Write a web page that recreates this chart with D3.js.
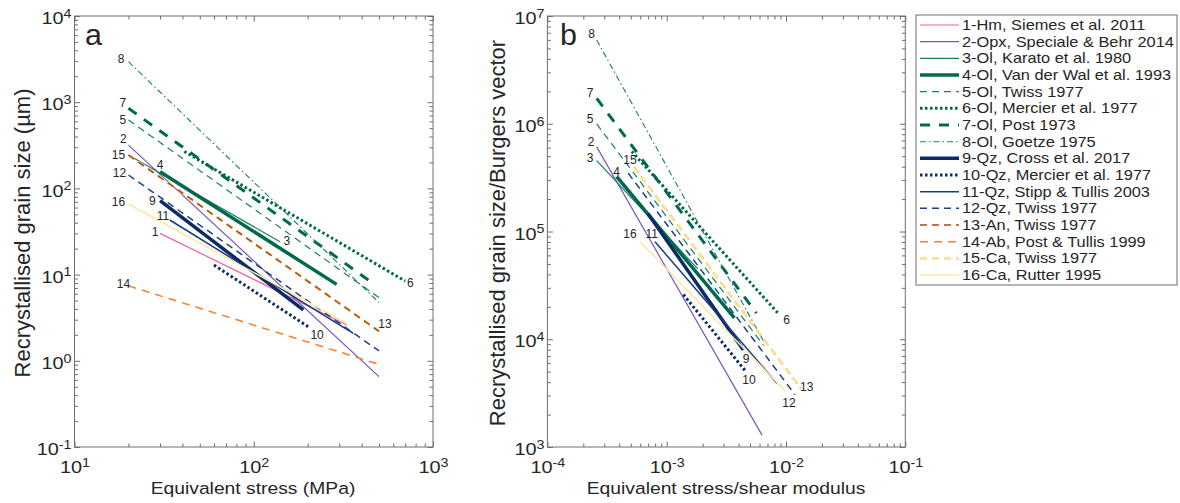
<!DOCTYPE html>
<html>
<head>
<meta charset="utf-8">
<script src="https://cdn.jsdelivr.net/npm/d3@7"></script>
<style>
body { margin: 0; background: #fff; }
text { font-family: "Liberation Sans", Arial, Helvetica, sans-serif; fill: #262626; }
</style>
</head>
<body>
<svg id="chart" width="1180" height="503"></svg>
<script>
// ---- data ----
var lineIds = [1, 2, 3, 4, 5, 6, 7, 8, 9, 10, 11, 12, 13, 14, 15, 16];
var legendNames = [
    "1-Hm, Siemes et al. 2011",
    "2-Opx, Speciale & Behr 2014",
    "3-Ol, Karato et al. 1980",
    "4-Ol, Van der Wal et al. 1993",
    "5-Ol, Twiss 1977",
    "6-Ol, Mercier et al. 1977",
    "7-Ol, Post 1973",
    "8-Ol, Goetze 1975",
    "9-Qz, Cross et al. 2017",
    "10-Qz, Mercier et al. 1977",
    "11-Qz, Stipp & Tullis 2003",
    "12-Qz, Twiss 1977",
    "13-An, Twiss 1977",
    "14-Ab, Post & Tullis 1999",
    "15-Ca, Twiss 1977",
    "16-Ca, Rutter 1995"
];

// panel a: equivalent stress (MPa) and grain size (um) at the two ends of each line
var stressStartA = [30, 20, 20, 30, 20, 41, 20, 20, 30, 60, 34, 20, 20, 20, 20, 20];
var stressEndA   = [330, 500, 140, 290, 500, 700, 436, 500, 189, 201, 359, 500, 500, 500, 500, 330];
var sizeStartA   = [30.1, 318, 244, 156, 621, 268, 849, 2950, 72, 12.9, 43, 143, 244, 7.4, 244, 65.9];
var sizeEndA     = [2.6, 0.655, 24.1, 7.7, 5.4, 8.4, 8.65, 4.74, 3.9, 2.49, 2.08, 1.3, 2.2, 0.91, 2.2, 2.72];

// panel b: stress/shear modulus and grain size/Burgers vector (null = not plotted)
var stressStartB = [null, 2.59e-4, 2.59e-4, 3.81e-4, 2.59e-4, 5.09e-4, 2.59e-4, 2.59e-4, 6.95e-4, 1.38e-3, 7.98e-4, 4.76e-4, 5.32e-4, null, 5.32e-4, 5.97e-4];
var stressEndB   = [null, 6.3e-3, 1.82e-3, 3.69e-3, 6.49e-3, 8.6e-3, 5.65e-3, 6.49e-3, 4.39e-3, 4.62e-3, 8.39e-3, 1.19e-2, 1.33e-2, null, 1.33e-2, 9.9e-3];
var sizeStartB   = [null, 6.1e5, 4.54e5, 3.23e5, 9.96e5, 5.53e5, 1.72e6, 5.98e6, 1.47e5, 2.6e4, 8.04e4, 3.47e5, 3.97e5, null, 3.97e5, 8.04e4];
var sizeEndB     = [null, 1290, 4.5e4, 1.58e4, 8.75e3, 1.74e4, 1.75e4, 9.6e3, 7.95e3, 5.0e3, 3.9e3, 3.06e3, 3.5e3, null, 3.5e3, 3.3e3];

var xExpA = [1, 2, 3], yExpA = [-1, 0, 1, 2, 3, 4];
var xExpB = [-4, -3, -2, -1], yExpB = [3, 4, 5, 6, 7];

// ---- styles ----
var lineStyles = [
    {color: "#f0609a", width: 1.2, dash: null},
    {color: "#7656c0", width: 1.2, dash: null},
    {color: "#1a7f62", width: 1.2, dash: null},
    {color: "#00694b", width: 3.5, dash: null},
    {color: "#1a7f62", width: 1.2, dash: "7,5"},
    {color: "#00694b", width: 3, dash: "2.5,2.5"},
    {color: "#00694b", width: 3, dash: "10,9"},
    {color: "#1a7f62", width: 1.1, dash: "6,3,1.5,3"},
    {color: "#0b2a66", width: 3.5, dash: null},
    {color: "#0b2a66", width: 3, dash: "2.5,2.5"},
    {color: "#173a80", width: 1.5, dash: null},
    {color: "#1d4287", width: 1.5, dash: "7,5"},
    {color: "#a54519", width: 1.5, dash: "7,5"},
    {color: "#f7802e", width: 1.5, dash: "8,6"},
    {color: "#fbe097", width: 3, dash: "7,5"},
    {color: "#fde8a4", width: 1.5, dash: null}
];
// where each number label sits: which end, and offset of its centre
var labelPosA = [
    ["s", -5, -1.6], ["s", -5, -6], ["e", 7, -1], ["s", 0, -6.7], ["s", -5.6, 0], ["e", 5, 1.3],
    ["s", -5.6, -5.6], ["s", -7.3, -3.4], ["s", -7.7, 0], ["e", 9, 7.6], ["s", -6.7, -4.3],
    ["s", -9, -2.7], ["e", 6, -7.3], ["s", -5, -2], ["s", -10, 0], ["s", -10, -2.3]
];
var labelPosB = [
    null, ["s", -5.7, -5], ["s", -6.7, -3.4], ["s", 0, -5], ["s", -6.7, -5.7], ["e", 8.5, 6],
    ["s", -6.7, -5.6], ["s", -5, -6.7], ["e", 2.7, 8.3], ["e", 3, 8.3], ["s", -3.3, -7.7],
    ["e", -6, 8], ["e", 6, -1.6], null, ["s", -4, -7.7], ["s", -10, -7.7]
];

var SX = 1.17;          // tick, legend and axis text is drawn a bit wider than the font
var axisColor = "#6e6e6e";

var svg = d3.select("#chart");

function addText(g, x, y, str, size, anchor, sx, rotate)
{
    return g.append("text")
        .attr("transform", "translate(" + x + "," + y + ") scale(" + sx + ",1)" + (rotate ? " rotate(-90)" : ""))
        .attr("text-anchor", anchor || "start")
        .style("font-size", size + "px")
        .text(str);
}

function powerLabels(sel)
{
    sel.selectAll(".tick text").each(function(d)
    {
        var t = d3.select(this);
        var e = Math.round(Math.log10(d));
        t.text(null);
        t.append("tspan").text("10");
        t.append("tspan").attr("dy", "-0.52em").style("font-size", "0.72em").text(e);
        t.attr("transform", "scale(" + SX + ",1)").attr("fill", "#262626");
    });
}

function minorValues(exps)
{
    var out = [];
    for (var i = 0; i < exps.length - 1; i++)
        for (var k = 2; k <= 9; k++) out.push(k * Math.pow(10, exps[i]));
    return out;
}

function drawAxes(g, x, y, xExps, yExps)
{
    var xr = x.range(), yr = y.range();
    var xMaj = xExps.map(function(e) { return Math.pow(10, e); });
    var yMaj = yExps.map(function(e) { return Math.pow(10, e); });
    var xMin = minorValues(xExps), yMin = minorValues(yExps);

    function put(axis, tf, labels)
    {
        var a = g.append("g").attr("transform", tf).call(axis);
        a.select(".domain").remove();
        a.selectAll(".tick line").attr("stroke", axisColor);
        if (labels) powerLabels(a); else a.selectAll(".tick text").remove();
        return a;
    }
    var fmt = function() { return ""; };

    var bx = put(d3.axisBottom(x).tickValues(xMaj).tickSize(-5.5).tickPadding(14).tickFormat(fmt), "translate(0," + yr[0] + ")", true);
    bx.selectAll(".tick text").style("font-size", "17px");
    put(d3.axisBottom(x).tickValues(xMin).tickSize(-3.5).tickFormat(fmt), "translate(0," + yr[0] + ")", false);
    put(d3.axisTop(x).tickValues(xMaj).tickSize(-5.5).tickFormat(fmt), "translate(0," + yr[1] + ")", false);
    put(d3.axisTop(x).tickValues(xMin).tickSize(-3.5).tickFormat(fmt), "translate(0," + yr[1] + ")", false);

    var ly = put(d3.axisLeft(y).tickValues(yMaj).tickSize(-5.5).tickPadding(2.5).tickFormat(fmt), "translate(" + xr[0] + ",0)", true);
    ly.selectAll(".tick text").style("font-size", "17px").attr("dy", "0.45em");
    put(d3.axisLeft(y).tickValues(yMin).tickSize(-3.5).tickFormat(fmt), "translate(" + xr[0] + ",0)", false);
    put(d3.axisRight(y).tickValues(yMaj).tickSize(-5.5).tickFormat(fmt), "translate(" + xr[1] + ",0)", false);
    put(d3.axisRight(y).tickValues(yMin).tickSize(-3.5).tickFormat(fmt), "translate(" + xr[1] + ",0)", false);

    g.append("rect")
        .attr("x", xr[0]).attr("y", yr[1])
        .attr("width", xr[1] - xr[0]).attr("height", yr[0] - yr[1])
        .attr("fill", "none").attr("stroke", axisColor).attr("stroke-width", 1);
}

function drawLines(g, x, y, s0, s1, d0, d1, order, labelPos)
{
    var line = d3.line().x(function(p) { return x(p[0]); }).y(function(p) { return y(p[1]); });
    order.forEach(function(i)
    {
        if (s0[i] === null) return;
        var st = lineStyles[i];
        g.append("path")
            .attr("d", line([[s0[i], d0[i]], [s1[i], d1[i]]]))
            .attr("fill", "none")
            .attr("stroke", st.color)
            .attr("stroke-width", st.width)
            .attr("stroke-dasharray", st.dash);
    });
    lineIds.forEach(function(id, i)
    {
        var lp = labelPos[i];
        if (!lp || s0[i] === null) return;
        var px = lp[0] == "s" ? x(s0[i]) : x(s1[i]);
        var py = lp[0] == "s" ? y(d0[i]) : y(d1[i]);
        addText(g, px + lp[1], py + lp[2], id, 12, "middle", 1).attr("dy", "0.36em");
    });
}

// ---- panel a ----
var xA = d3.scaleLog().domain([10, 1000]).range([74.5, 433]);
var yA = d3.scaleLog().domain([0.1, 1e4]).range([447, 16]);
var gA = svg.append("g");
drawAxes(gA, xA, yA, xExpA, yExpA);
drawLines(gA, xA, yA, stressStartA, stressEndA, sizeStartA, sizeEndA,
    [0, 1, 2, 3, 4, 5, 6, 7, 8, 9, 10, 11, 13, 14, 12, 15], labelPosA);
addText(gA, 85, 45, "a", 29, "start", 1.05);
addText(gA, 253, 494, "Equivalent stress (MPa)", 16.5, "middle", SX);
addText(gA, 30, 233, "Recrystallised grain size (\u00b5m)", 22, "middle", 1, true);

// ---- panel b ----
var xB = d3.scaleLog().domain([1e-4, 1e-1]).range([547.4, 905.3]);
var yB = d3.scaleLog().domain([1e3, 1e7]).range([447, 16]);
var gB = svg.append("g");
drawAxes(gB, xB, yB, xExpB, yExpB);
drawLines(gB, xB, yB, stressStartB, stressEndB, sizeStartB, sizeEndB,
    [0, 1, 2, 3, 4, 5, 6, 7, 8, 9, 10, 11, 12, 13, 14, 15], labelPosB);
addText(gB, 560, 45, "b", 29, "start", 1.05);
addText(gB, 726, 494, "Equivalent stress/shear modulus", 16.5, "middle", SX);
addText(gB, 505, 233, "Recrystallised grain size/Burgers vector", 22, "middle", 1, true);

// ---- legend ----
var leg = svg.append("g");
leg.append("rect")
    .attr("x", 916).attr("y", 15).attr("width", 261).attr("height", 270)
    .attr("fill", "#fff").attr("stroke", axisColor);
var legend = leg.selectAll(".ledgends")
    .data(lineIds)
    .enter().append("g")
    .classed("ledgends", true)
    .attr("transform", function(d, i) { return "translate(0," + (25 + i * 16.67) + ")"; });
legend.append("line")
    .attr("x1", 920).attr("x2", 959)
    .attr("stroke", function(d, i) { return lineStyles[i].color; })
    .attr("stroke-width", function(d, i) { return lineStyles[i].width; })
    .attr("stroke-dasharray", function(d, i) { return lineStyles[i].dash; });
legend.each(function(d, i)
{
    addText(d3.select(this), 962, 0, legendNames[i], 14, "start", SX).attr("dy", "0.36em");
});
</script>
</body>
</html>
